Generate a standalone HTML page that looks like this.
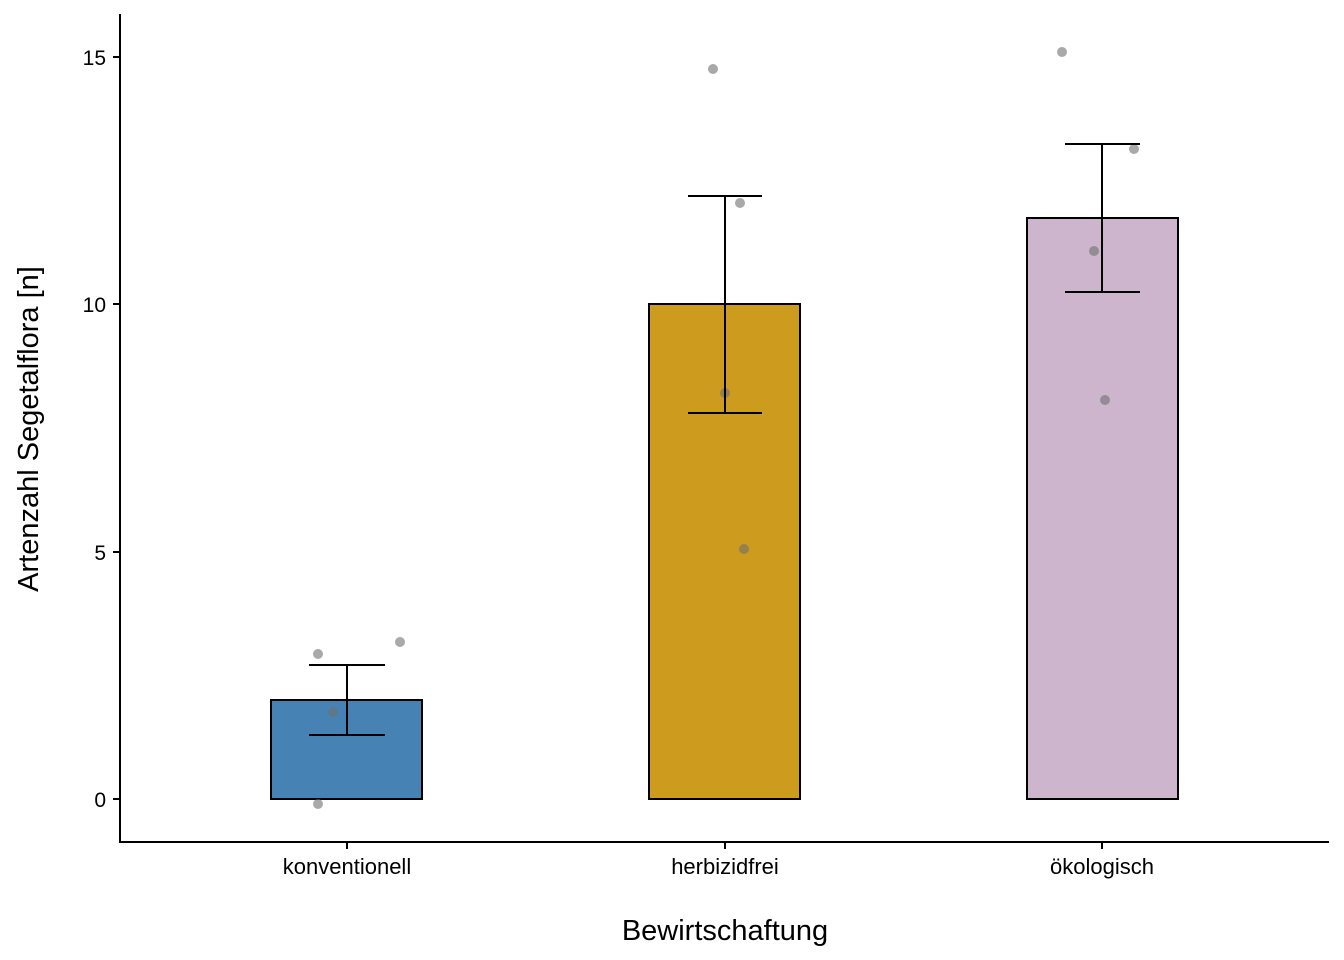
<!DOCTYPE html>
<html><head><meta charset="utf-8"><style>body{margin:0;background:#fff}svg{display:block}text{font-family:"Liberation Sans",Arial,sans-serif}</style></head><body>
<svg width="1344" height="960" viewBox="0 0 1344 960">
<g stroke="#000" stroke-width="2">
<rect x="271" y="700" width="151" height="99" fill="#4682B4"/>
<rect x="649" y="304" width="151" height="495" fill="#CD9B1D"/>
<rect x="1027" y="218" width="151" height="581" fill="#CDB5CD"/>
</g>
<g fill="#6f6f6f" fill-opacity="0.6">
<circle cx="318" cy="654" r="5"/><circle cx="400" cy="642" r="5"/><circle cx="333" cy="712" r="5"/><circle cx="318" cy="804" r="5"/>
<circle cx="713" cy="69" r="5"/><circle cx="740" cy="203" r="5"/><circle cx="725" cy="393" r="5"/><circle cx="744" cy="549" r="5"/>
<circle cx="1062" cy="52" r="5"/><circle cx="1134" cy="149" r="5"/><circle cx="1094" cy="251" r="5"/><circle cx="1105" cy="400" r="5"/>
</g>
<g stroke="#000" stroke-width="2" fill="none">
<path d="M309 665H385M347 665V735M309 735H385"/>
<path d="M688 196H762M725 196V413M688 413H762"/>
<path d="M1065 144H1140M1102 144V292M1065 292H1140"/>
<path d="M120 14V842H1329"/>
<path d="M113 57H120M113 304H120M113 552H120M113 799H120"/>
<path d="M347 842V849M725 842V849M1102 842V849"/>
</g>
<g font-size="21" fill="#000" text-anchor="end">
<text x="106" y="65">15</text><text x="106" y="312">10</text><text x="106" y="560">5</text><text x="106" y="807">0</text>
</g>
<g font-size="22" fill="#000" text-anchor="middle">
<text x="347" y="874">konventionell</text><text x="725" y="874">herbizidfrei</text><text x="1102" y="874">ökologisch</text>
</g>
<text x="725" y="940" font-size="29" text-anchor="middle">Bewirtschaftung</text>
<text transform="translate(38,429) rotate(-90)" font-size="29" text-anchor="middle">Artenzahl Segetalflora [n]</text>
</svg>
</body></html>
